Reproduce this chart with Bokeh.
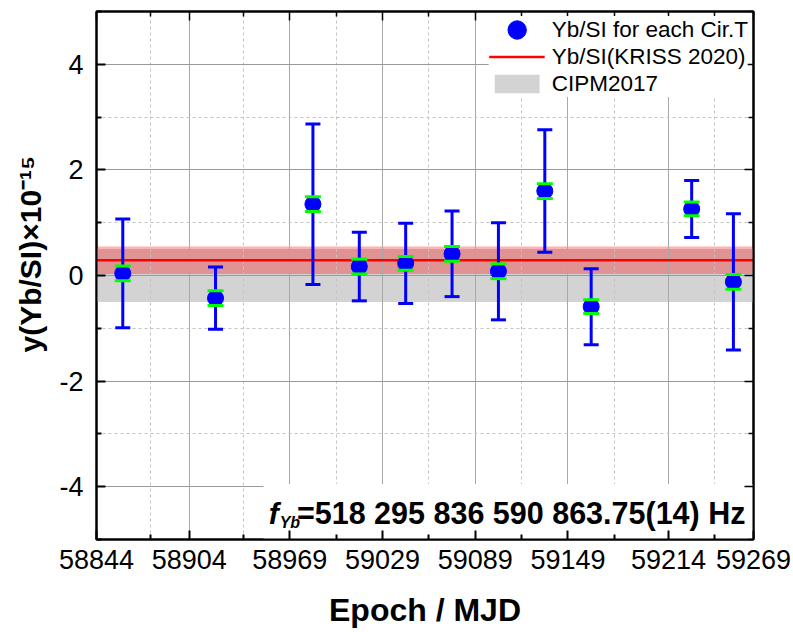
from bokeh.plotting import figure
from bokeh.models import (Range1d, FixedTicker, LinearAxis, Legend, LegendItem,
                          Label, BoxAnnotation)
from bokeh.embed import file_html
from bokeh.resources import INLINE

# ---- data -------------------------------------------------------------
mjd = [58861, 58921, 58984, 59014, 59044, 59074, 59104, 59134, 59164, 59229, 59256]
y_val = [0.04, -0.43, 1.35, 0.17, 0.23, 0.41, 0.08, 1.60, -0.59, 1.26, -0.12]
y_err = [1.03, 0.59, 1.52, 0.65, 0.76, 0.81, 0.92, 1.16, 0.72, 0.54, 1.29]
y_err_inner = [0.14, 0.14, 0.14, 0.14, 0.13, 0.14, 0.14, 0.14, 0.13, 0.13, 0.14]

kriss_value = 0.29
kriss_unc = 0.26
cipm_value = 0.0
cipm_unc = 0.5

x_ticks = [58844, 58904, 58969, 59029, 59089, 59149, 59214, 59269]
x_minor = [58879, 58939, 58999, 59059, 59119, 59179, 59244]
y_ticks = [-4, -2, 0, 2, 4]
y_minor = [-5, -3, -1, 1, 3, 5]
y_limits = [-5, 5]

FONT = "Liberation Sans"

lo = [v - e for v, e in zip(y_val, y_err)]
hi = [v + e for v, e in zip(y_val, y_err)]
lo_in = [v - e for v, e in zip(y_val, y_err_inner)]
hi_in = [v + e for v, e in zip(y_val, y_err_inner)]

p = figure(frame_width=657, frame_height=528,
           x_range=Range1d(x_ticks[0], x_ticks[-1]),
           y_range=Range1d(y_limits[0], y_limits[1]),
           output_backend="svg", toolbar_location=None,
           title="y(Yb/SI)×10⁻¹⁵", title_location="left",
           min_border_left=96, min_border_right=40, min_border_top=11,
           min_border_bottom=93)
p.background_fill_color = "white"
p.border_fill_color = "white"
p.outline_line_color = "black"
p.outline_line_width = 2

# y axis title (as a left-side title so it can sit slightly above centre)
p.title.text_font = FONT
p.title.text_font_size = "30px"
p.title.text_font_style = "bold"
p.title.text_color = "black"
p.title.align = "left"
p.title.standoff = 20
p.title.offset = 187

# ---- axes ---------------------------------------------------------------
for ax in (p.xaxis[0], p.yaxis[0]):
    ax.axis_line_width = 2
    ax.axis_line_color = "black"
    ax.major_tick_in = 9
    ax.major_tick_out = 0
    ax.minor_tick_in = 5
    ax.minor_tick_out = 0
    ax.major_tick_line_width = 2
    ax.minor_tick_line_width = 2
    ax.major_label_text_font = FONT
    ax.major_label_text_font_size = "27px"
    ax.major_label_text_color = "black"
    ax.axis_label_text_font = FONT
    ax.axis_label_text_font_size = "32px"
    ax.axis_label_text_font_style = "bold"
    ax.axis_label_text_color = "black"

p.xaxis[0].ticker = FixedTicker(ticks=x_ticks, minor_ticks=x_minor)
p.yaxis[0].ticker = FixedTicker(ticks=y_ticks, minor_ticks=y_minor)
p.yaxis[0].major_label_overrides = {t: str(t) for t in y_ticks}
p.xaxis[0].major_label_overrides = {t: str(t) for t in x_ticks}
p.xaxis[0].axis_label = "Epoch / MJD"
p.xaxis[0].major_label_standoff = 10
p.xaxis[0].axis_label_standoff = 20
p.yaxis[0].major_label_standoff = 13

# mirrored tick axes (no labels)
top_ax = LinearAxis(ticker=FixedTicker(ticks=x_ticks, minor_ticks=x_minor))
right_ax = LinearAxis(ticker=FixedTicker(ticks=y_ticks, minor_ticks=y_minor))
for ax in (top_ax, right_ax):
    ax.axis_line_width = 2
    ax.major_tick_in = 9
    ax.major_tick_out = 0
    ax.minor_tick_in = 5
    ax.minor_tick_out = 0
    ax.major_tick_line_width = 1.5
    ax.minor_tick_line_width = 1.5
    ax.major_label_text_color = None
    ax.major_label_text_font_size = "0px"
    ax.major_label_standoff = 0
p.add_layout(top_ax, "above")
p.add_layout(right_ax, "right")

# ---- grid -------------------------------------------------------------
p.xgrid.grid_line_color = "#a8a8a8"
p.ygrid.grid_line_color = "#9a9a9a"
p.xgrid.grid_line_width = 1
p.ygrid.grid_line_width = 1
for g in (p.xgrid[0], p.ygrid[0]):
    g.minor_grid_line_color = "#c4c4c4"
    g.minor_grid_line_dash = "3 3"
    g.minor_grid_line_width = 1
p.xgrid[0].ticker = p.xaxis[0].ticker
p.ygrid[0].ticker = p.yaxis[0].ticker

# ---- bands ------------------------------------------------------------
cipm_band = p.quad(left=[x_ticks[0]], right=[x_ticks[-1]],
                   bottom=[cipm_value - cipm_unc], top=[cipm_value + cipm_unc],
                   fill_color="#d3d3d3", line_color=None, level="image")
cipm_outline = p.quad(left=[], right=[], bottom=[], top=[],
                      fill_color="#d3d3d3", line_color="#555555", line_width=1)
kriss_band = p.quad(left=[x_ticks[0]], right=[x_ticks[-1]],
                    bottom=[kriss_value - kriss_unc], top=[kriss_value + kriss_unc],
                    fill_color="#ff0000", fill_alpha=0.3, line_color=None, level="image")
kriss_line = p.line(x=[x_ticks[0], x_ticks[-1]], y=[kriss_value, kriss_value],
                    line_color="#ff0000", line_width=2.5)

# ---- error bars and points -----------------------------------------------
p.segment(x0=mjd, y0=lo, x1=mjd, y1=hi, line_color="#0000ff", line_width=3)
p.scatter(x=mjd + mjd, y=lo + hi, marker="dash", size=15,
          line_color="#0000ff", line_width=3)
pts = p.scatter(x=mjd, y=y_val, marker="circle", size=16,
                fill_color="#0000ff", line_color="#0000ff")
p.scatter(x=mjd + mjd, y=lo_in + hi_in, marker="dash", size=16,
          line_color="#00ff00", line_width=3)
# legend-only glyph (nothing drawn in the plot) so the legend dot is full size
pts_key = p.ellipse(x=[float("nan")], y=[float("nan")], width=16, height=16,
                    width_units="screen", height_units="screen",
                    fill_color="#0000ff", line_color="#0000ff")

# ---- annotation ---------------------------------------------------------
p.add_layout(BoxAnnotation(left=58952, top=-3.95, fill_color="white",
                           fill_alpha=1, line_color=None, level="underlay"))
p.add_layout(Label(x=58955.5, y=-4.5, text="f", text_font=FONT,
                   text_font_size="30px", text_font_style="bold italic",
                   text_baseline="alphabetic", text_color="black"))
p.add_layout(Label(x=58962.5, y=-4.68, text="Yb", text_font=FONT,
                   text_font_size="16px", text_font_style="bold italic",
                   text_baseline="alphabetic", text_color="black"))
p.add_layout(Label(x=59263.8, y=-4.5, text="=518 295 836 590 863.75(14) Hz",
                   text_font=FONT, text_font_size="30.5px", text_font_style="bold",
                   text_align="right", text_baseline="alphabetic",
                   text_color="black"))

# ---- legend -----------------------------------------------------------
legend = Legend(items=[
    LegendItem(label="Yb/SI for each Cir.T", renderers=[pts_key]),
    LegendItem(label="Yb/SI(KRISS 2020)", renderers=[kriss_line]),
    LegendItem(label="CIPM2017", renderers=[cipm_band, cipm_outline]),
], location="top_right")
legend.margin = 5
legend.padding = 7
legend.spacing = 0
legend.glyph_width = 56
legend.glyph_height = 23
legend.label_height = 27
legend.label_standoff = 7
legend.label_text_font = FONT
legend.label_text_font_size = "22.5px"
legend.label_text_color = "black"
legend.border_line_color = None
legend.background_fill_color = "white"
legend.background_fill_alpha = 1
p.add_layout(legend, "center")

open("out.html", "w").write(file_html(p, INLINE))
